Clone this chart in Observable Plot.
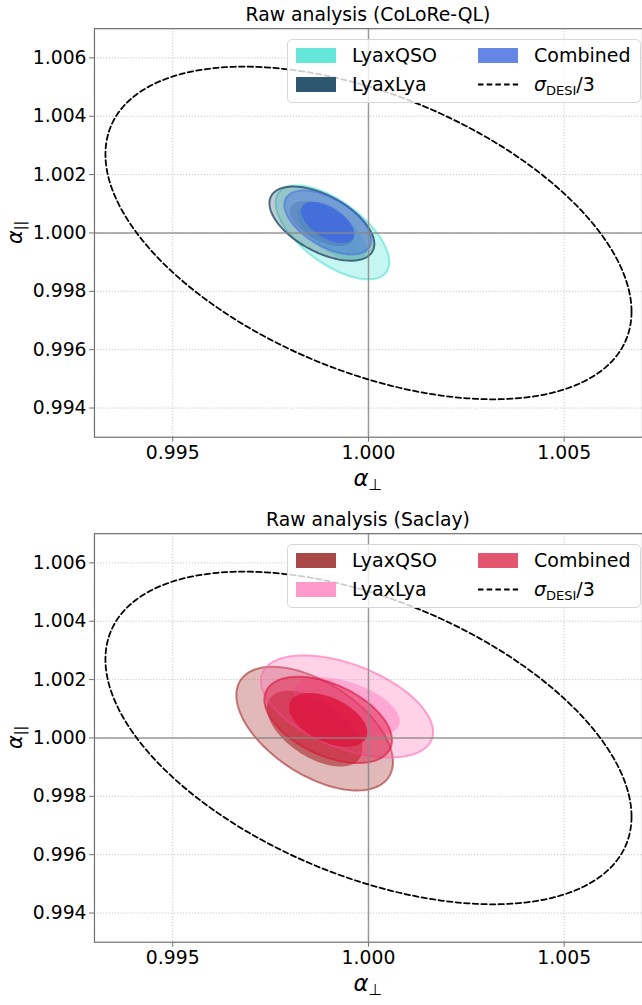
<!DOCTYPE html>
<html><head><meta charset="utf-8">
<script src="https://cdn.jsdelivr.net/npm/d3@7"></script>
<script src="https://cdn.jsdelivr.net/npm/@observablehq/plot@0.6"></script>
<style>
body{margin:0;background:#fff;width:642px;height:1005px;overflow:hidden;font-family:"DejaVu Sans",sans-serif;}
.panel{position:relative;width:642px;height:505px;overflow:hidden;}
.panel svg{position:absolute;left:0;top:0;}
.legend{position:absolute;left:287px;top:39px;width:354px;height:64px;box-sizing:border-box;border:1px solid #d6d6d6;border-radius:5px;background:rgba(255,255,255,0.8);font-size:19px;color:#000;}
.patch{position:absolute;width:40px;height:15px;}
.lab{position:absolute;white-space:nowrap;}
sub{font-size:13px;vertical-align:-4px;line-height:0;}
</style></head>
<body>
<div id="root"></div>
<script>
// ---------- data ----------
const xTicks = [0.995, 1.000, 1.005];
const yTicks = [0.994, 0.996, 0.998, 1.000, 1.002, 1.004, 1.006];
const axisDomain = [0.993, 1.007];

// sigma_DESI/3 reference ellipse (center, half extents, correlation)
const desiCenter = [1.0, 1.0];
const desiHalf = [0.00672, 0.0057];
const desiRho = -0.473;

// Panel 1: CoLoRe-QL
const topTitle = "Raw analysis (CoLoRe-QL)";
const topNames = ["LyaxQSO", "LyaxLya", "Combined"];
const topColors = ["#40E0D0", "#2F5470", "#4169E1"];
const topLegendColors = ["#64E6D8", "#2F566F", "#6586E4"];
const topCx = [0.99908, 0.99881, 0.99896];
const topCy = [1.00002, 1.00032, 1.00036];
const topOuterSx = [0.00145, 0.00134, 0.00111];
const topOuterSy = [0.00161, 0.00127, 0.00110];
const topInnerSx = [0.00088, 0.00082, 0.00068];
const topInnerSy = [0.00098, 0.00077, 0.00071];
const topRho = [-0.63, -0.55, -0.55];

// Panel 2: Saclay
const botTitle = "Raw analysis (Saclay)";
const botNames = ["LyaxQSO", "LyaxLya", "Combined"];
const botColors = ["#A52A2A", "#FF69B4", "#DC143C"];
const botLegendColors = ["#AA4848", "#FF9ACD", "#E35670"];
const botCx = [0.998625, 0.99945, 0.99897];
const botCy = [1.00032, 1.00108, 1.00062];
const botOuterSx = [0.00200, 0.00220, 0.00163];
const botOuterSy = [0.00212, 0.00175, 0.00148];
const botInnerSx = [0.00122, 0.00135, 0.00100];
const botInnerSy = [0.00130, 0.00100, 0.00092];
const botRho = [-0.54, -0.50, -0.47];

// ---------- helpers ----------
function ellipsePts(cx, cy, sx, sy, rho, n = 180) {
  const pts = [], s = Math.sqrt(1 - rho * rho);
  for (let i = 0; i <= n; i++) {
    const t = 2 * Math.PI * i / n;
    pts.push({x: cx + sx * Math.cos(t), y: cy + sy * (rho * Math.cos(t) + s * Math.sin(t))});
  }
  return pts;
}

// fill/stroke style per dataset index: [outerFillOp, innerFillOp, strokeOp]
const styleTop = [[0.30, 0.30, 0.55], [0.30, 0.28, 0.85], [0.42, 0.82, 0.5]];
const styleBot = [[0.33, 0.60, 0.60], [0.30, 0.40, 0.60], [0.45, 0.80, 0.60]];

function panel(cfg) {
  const marks = [
    Plot.gridX(xTicks, {stroke: "#b0b0b0", strokeOpacity: 0.9, strokeDasharray: "1.2,1.8", strokeWidth: 0.8}),
    Plot.gridY(yTicks, {stroke: "#b0b0b0", strokeOpacity: 0.9, strokeDasharray: "1.2,1.8", strokeWidth: 0.8})
  ];
  for (let i = 0; i < cfg.names.length; i++) {
    const outer = ellipsePts(cfg.cx[i], cfg.cy[i], cfg.osx[i], cfg.osy[i], cfg.rho[i]);
    const inner = ellipsePts(cfg.cx[i], cfg.cy[i], cfg.isx[i], cfg.isy[i], cfg.rho[i]);
    const st = cfg.style[i];
    marks.push(Plot.line(outer, {x: "x", y: "y", fill: cfg.colors[i], fillOpacity: st[0], stroke: cfg.colors[i], strokeOpacity: st[2], strokeWidth: 2}));
    marks.push(Plot.line(inner, {x: "x", y: "y", fill: cfg.colors[i], fillOpacity: st[1], stroke: "none"}));
  }
  marks.push(Plot.ruleX([1.0], {stroke: "#8a8a8a", strokeOpacity: 0.85, strokeWidth: 1.5}));
  marks.push(Plot.ruleY([1.0], {stroke: "#8a8a8a", strokeOpacity: 0.85, strokeWidth: 1.5}));
  marks.push(Plot.line(ellipsePts(desiCenter[0], desiCenter[1], desiHalf[0], desiHalf[1], desiRho, 360),
    {x: "x", y: "y", stroke: "#000", strokeWidth: 1.8, strokeDasharray: "5.5,3.2"}));
  marks.push(Plot.frame({stroke: "#6e6e6e", strokeWidth: 1.2}));
  marks.push(Plot.axisX(xTicks, {tickSize: 5, tickPadding: 3, tickFormat: d3.format(".3f"), label: null, stroke: "#6e6e6e"}));
  marks.push(Plot.axisY(yTicks, {tickSize: 5, tickPadding: 3, tickFormat: d3.format(".3f"), label: null, stroke: "#6e6e6e"}));

  const svg = Plot.plot({
    width: 649, height: 505,
    marginLeft: 95, marginRight: 0, marginTop: 28.5, marginBottom: 63.5,
    x: {domain: axisDomain},
    y: {domain: axisDomain},
    style: {fontFamily: "DejaVu Sans", fontSize: "19px", color: "#000", background: "transparent"},
    marks
  });
  const s = d3.select(svg);
  s.append("text").attr("x", 372).attr("y", 21).attr("text-anchor", "middle")
    .attr("font-family", "DejaVu Sans").attr("font-size", 19).text(cfg.title);
  const xl = s.append("text").attr("x", 372).attr("y", 491).attr("text-anchor", "middle")
    .attr("font-family", "DejaVu Sans").attr("font-size", 23);
  xl.append("tspan").attr("font-style", "italic").text("α");
  xl.append("tspan").attr("font-size", 16).attr("dy", 4).text("⊥");
  const yl = s.append("text").attr("transform", "translate(22,235) rotate(-90)").attr("text-anchor", "middle")
    .attr("font-family", "DejaVu Sans").attr("font-size", 21);
  yl.append("tspan").attr("font-style", "italic").text("α");
  yl.append("tspan").attr("font-size", 14).attr("dy", 3).text("||");

  const div = document.createElement("div");
  div.className = "panel";
  div.appendChild(svg);
  const lg = document.createElement("div");
  lg.className = "legend";
  const pos = [[8, 8, 64], [8, 37, 64], [190, 8, 246]];
  cfg.names.forEach((n, i) => {
    const [px, py, tx] = pos[i];
    lg.insertAdjacentHTML("beforeend",
      `<div class="patch" style="left:${px}px;top:${py}px;background:${cfg.legendColors[i]}"></div>` +
      `<div class="lab" style="left:${tx}px;top:${py - 4}px;line-height:22px">${n}</div>`);
  });
  lg.insertAdjacentHTML("beforeend",
    `<svg style="position:absolute;left:190px;top:37px" width="40" height="15"><line x1="0" x2="40" y1="7.5" y2="7.5" stroke="#000" stroke-width="1.8" stroke-dasharray="5.5,3.2"/></svg>` +
    `<div class="lab" style="left:246px;top:33px;line-height:22px"><i>σ</i><sub>DESI</sub>/3</div>`);
  div.appendChild(lg);
  return div;
}

const root = document.getElementById("root");
root.appendChild(panel({title: topTitle, names: topNames, colors: topColors, legendColors: topLegendColors,
  cx: topCx, cy: topCy, osx: topOuterSx, osy: topOuterSy, isx: topInnerSx, isy: topInnerSy, rho: topRho, style: styleTop}));
root.appendChild(panel({title: botTitle, names: botNames, colors: botColors, legendColors: botLegendColors,
  cx: botCx, cy: botCy, osx: botOuterSx, osy: botOuterSy, isx: botInnerSx, isy: botInnerSy, rho: botRho, style: styleBot}));
</script>
</body></html>
